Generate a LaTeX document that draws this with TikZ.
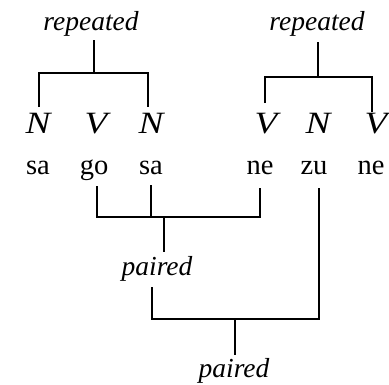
\documentclass[tikz,border=0pt]{standalone}
\usepackage{fontspec}
\setmainfont{Liberation Serif}
\newcommand{\catl}[1]{\scalebox{1.2}[1]{#1}}
\begin{document}
\begin{tikzpicture}[x=1pt,y=-1pt,
  lab/.style={font=\fontsize{27.5}{30}\selectfont\itshape, anchor=base, inner sep=0pt},
  cat/.style={font=\fontsize{31}{33}\selectfont\itshape, anchor=base, inner sep=0pt},
  word/.style={font=\fontsize{28.5}{30}\selectfont, anchor=base, inner sep=0pt},
  ln/.style={line width=1.1pt}]
\useasboundingbox (0,0) rectangle (389,384);
% top labels
\node[lab] (rep1) at (91,30) {repeated};
\node[lab] (rep2) at (317,30) {repeated};
% categories
\node[cat] (N1) at (38,133) {\catl{N}};
\node[cat] (V1) at (96,133) {\catl{V}};
\node[cat] (N2) at (151,133) {\catl{N}};
\node[cat] (V2) at (266,133) {\catl{V}};
\node[cat] (N3) at (318,133) {\catl{N}};
\node[cat] (V3) at (376,133) {\catl{V}};
% words
\node[word] (sa1) at (38,174) {sa};
\node[word] (go) at (94,174) {go};
\node[word] (sa2) at (151,174) {sa};
\node[word] (ne1) at (260,174) {ne};
\node[word] (zu) at (314,174) {zu};
\node[word] (ne2) at (371,174) {ne};
% lower labels
\node[lab] (pr1) at (157,275) {paired};
\node[lab] (pr2) at (234,377) {paired};
% junctions
\coordinate (j1) at (94,73);
\coordinate (j2) at (318,77);
\coordinate (j3) at (164,217);
\coordinate (j4) at (235,319);
% repeated 1
\draw[ln] ([xshift=3pt,yshift=-10pt]rep1.base) -- (j1);
\draw[ln] ([xshift=1pt,yshift=26pt]N1.base) |- (j1) -| ([xshift=-3pt,yshift=26pt]N2.base);
% repeated 2
\draw[ln] ([xshift=1pt,yshift=-12pt]rep2.base) -- (j2);
\draw[ln] ([xshift=-1pt,yshift=30pt]V2.base) |- (j2) -| ([xshift=-4pt,yshift=21pt]V3.base);
% paired 1
\draw[ln] ([xshift=3pt,yshift=-12pt]go.base) |- (j3) -| ([yshift=-14pt]ne1.base);
\draw[ln] ([yshift=-11pt]sa2.base) -- (sa2.base |- j3);
\draw[ln] (j3) -- ([xshift=7pt,yshift=23pt]pr1.base);
% paired 2
\draw[ln] ([xshift=-5pt,yshift=-12pt]pr1.base) |- (j4) -| ([xshift=5pt,yshift=-14pt]zu.base);
\draw[ln] (j4) -- ([xshift=1pt,yshift=22pt]pr2.base);
\end{tikzpicture}
\end{document}
